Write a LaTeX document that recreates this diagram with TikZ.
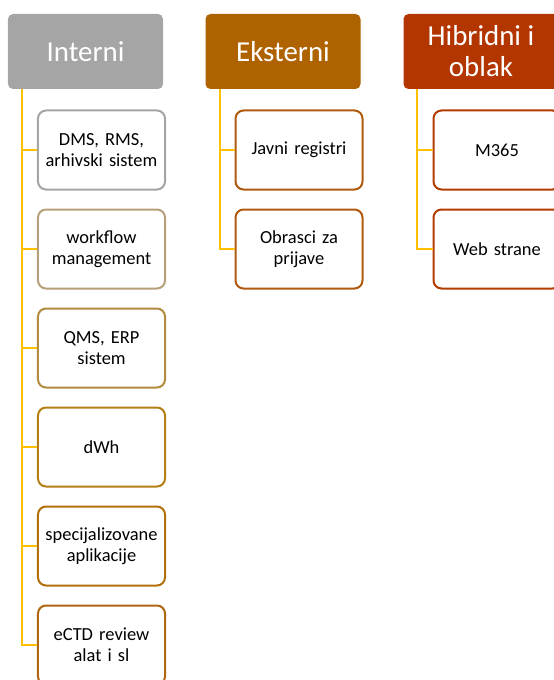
\documentclass[tikz,border=0pt]{standalone}
\usepackage{fontspec}
\setmainfont{Carlito}
\usetikzlibrary{calc}
\definecolor{hgray}{HTML}{A5A5A5}
\definecolor{horange}{HTML}{AF6200}
\definecolor{hred}{HTML}{B33600}
\definecolor{ci1}{HTML}{A5A5A5}
\definecolor{ci2}{HTML}{B5A07A}
\definecolor{ci3}{HTML}{B38B3E}
\definecolor{ci4}{HTML}{B47F14}
\definecolor{ci5}{HTML}{B3700A}
\definecolor{ci6}{HTML}{B06510}
\definecolor{ce}{HTML}{B05A10}
\definecolor{ch}{HTML}{B33C00}
\definecolor{conncol}{HTML}{FFC000}
\tikzset{
  header/.style={rectangle, rounded corners=5bp, minimum width=155bp, minimum height=75bp,
    text=white, font=\fontsize{29}{31}\selectfont, align=center, inner sep=1bp},
  child/.style={rectangle, rounded corners=8bp, draw, line width=2bp, fill=white,
    minimum width=127bp, minimum height=79bp, text width=124bp, align=center,
    font=\fontsize{18.5}{21}\selectfont, inner sep=1bp},
  conn/.style={draw=conncol, line width=2.2bp}
}
\begin{document}
\begin{tikzpicture}[x=1bp,y=-1bp]
\useasboundingbox (0,0) rectangle (554,680);
\clip (0,0) rectangle (554,680);
% headers
\node[header, fill=hgray] (hI) at (85.5,51.5) {Interni};
\node[header, fill=horange] (hE) at (283,51.5) {Eksterni};
\node[header, fill=hred] (hH) at (481,51.5) {Hibridni i\\oblak};
% Interni children
\node[child, draw=ci1] (i1) at (101.5,150) {DMS, RMS,\\arhivski sistem};
\node[child, draw=ci2] (i2) at (101.5,249) {workflow\\management};
\node[child, draw=ci3] (i3) at (101.5,348) {QMS, ERP\\sistem};
\node[child, draw=ci4] (i4) at (101.5,447) {dWh};
\node[child, draw=ci5] (i5) at (101.5,546) {specijalizovane\\aplikacije};
\node[child, draw=ci6] (i6) at (101.5,645) {eCTD review\\alat i sl};
% Eksterni children
\node[child, draw=ce] (e1) at (299,150) {Javni registri};
\node[child, draw=ce] (e2) at (299,249) {Obrasci za\\prijave};
% Hibridni children
\node[child, draw=ch] (h1) at (497,150) {M365};
\node[child, draw=ch] (h2) at (497,249) {Web strane};
% connectors
\coordinate (tI) at ($(hI.south west)+(14,0)$);
\coordinate (tE) at ($(hE.south west)+(15,0)$);
\coordinate (tH) at ($(hH.south west)+(14,0)$);
\draw[conn] (tI) |- (i6.west);
\foreach \c in {i1,i2,i3,i4,i5} \draw[conn] (tI |- \c.west) -- (\c.west);
\draw[conn] (tE) |- (e2.west);
\draw[conn] (tE |- e1.west) -- (e1.west);
\draw[conn] (tH) |- (h2.west);
\draw[conn] (tH |- h1.west) -- (h1.west);
\end{tikzpicture}
\end{document}
